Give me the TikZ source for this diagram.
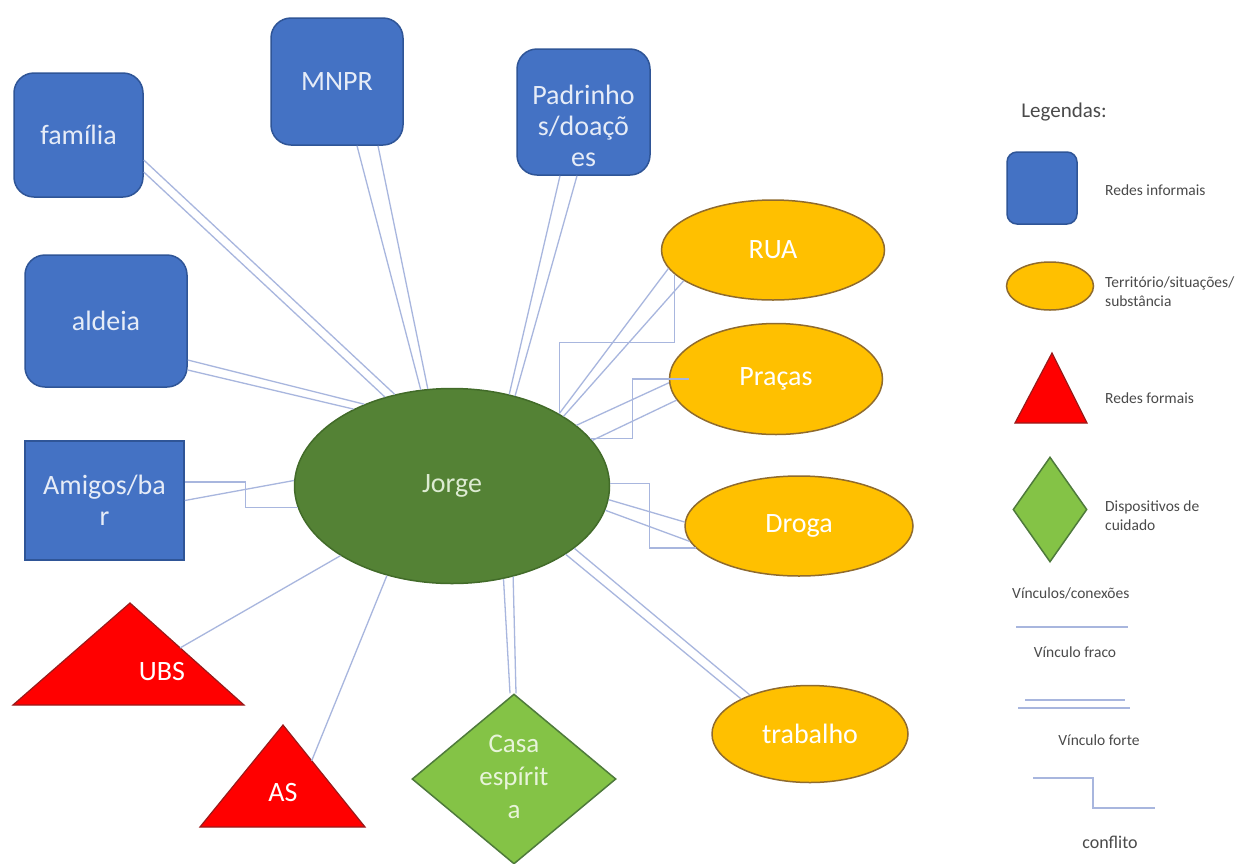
\documentclass[tikz,border=0pt]{standalone}
\usepackage{fontspec}
\setmainfont{Carlito}
\usetikzlibrary{shapes.geometric,calc}

\definecolor{infoBlue}{HTML}{4472C4}
\definecolor{infoBorder}{HTML}{2F5597}
\definecolor{infoText}{HTML}{E6ECF7}
\definecolor{jorgeGreen}{HTML}{548235}
\definecolor{jorgeBorder}{HTML}{426B29}
\definecolor{jorgeText}{HTML}{DDEBD2}
\definecolor{terrOrange}{HTML}{FFC000}
\definecolor{terrBorder}{HTML}{8F6B2E}
\definecolor{formRed}{HTML}{FF0000}
\definecolor{formBorder}{HTML}{9A1A1A}
\definecolor{careGreen}{HTML}{84C346}
\definecolor{careBorder}{HTML}{4E7A3B}
\definecolor{careText}{HTML}{E8F4DA}
\definecolor{linkBlue}{HTML}{A8B6DE}
\definecolor{legendText}{HTML}{4A4A4A}

\newcommand\lblfont{\fontsize{28}{31}\selectfont}
\newcommand\casafont{\fontsize{27}{33}\selectfont}
\newcommand\legfont{\fontsize{15.5}{19}\selectfont}
\newcommand\legtitlefont{\fontsize{21}{25}\selectfont}

\begin{document}
\begin{tikzpicture}[x=1pt,y=-1pt,
  informal/.style={draw=infoBorder, fill=infoBlue, line width=1.5pt,
    rounded corners=20pt, text=infoText, align=center, font=\lblfont, inner sep=0pt},
  territory/.style={ellipse, draw=terrBorder, fill=terrOrange, line width=1.5pt,
    text=white, font=\lblfont, inner sep=0pt},
  formal/.style={draw=formBorder, fill=formRed, line width=1.2pt, line join=miter},
  care/.style={diamond, draw=careBorder, fill=careGreen, line width=1.5pt, inner sep=0pt},
  lbl/.style={font=\lblfont, text=white, align=center, inner sep=0pt},
  legtxt/.style={font=\legfont, text=legendText, align=left, inner sep=0pt},
  link/.style={draw=linkBlue, line width=1.3pt}]

\useasboundingbox (0,0) rectangle (1245,863);
\fill[white] (0,0) rectangle (1245,863);

% ---------- informal networks ----------
\node[informal, minimum width=129pt, minimum height=124pt] (fam) at (78.5,135) {família};
\node[informal, minimum width=132pt, minimum height=127pt] (mnpr) at (337,81.5) {MNPR};
\node[informal, minimum width=133pt, minimum height=126pt] (padr) at (583.5,112) {};
\node[lbl, text=infoText] (padrTxt) at (583.5,126) {Padrinho\\s/doaçõ\\es};
\node[informal, minimum width=162pt, minimum height=132pt] (ald) at (106,321) {aldeia};
\node[informal, rounded corners=0pt, minimum width=159pt, minimum height=119pt] (amig) at (104.5,500.5) {Amigos/ba\\r};

% ---------- central person ----------
\node[ellipse, draw=jorgeBorder, fill=jorgeGreen, line width=1.5pt, inner sep=0pt,
  minimum width=315pt, minimum height=195pt, text=jorgeText, font=\lblfont] (jorge) at (452,486) {Jorge};

% ---------- territories ----------
\node[territory, minimum width=223pt, minimum height=100pt] (rua) at (773,250) {RUA};
\node[territory, minimum width=213pt, minimum height=111pt] (pracas) at (776,379) {Praças};
\node[territory, minimum width=228pt, minimum height=100pt] (droga) at (799,526) {Droga};
\node[territory, minimum width=196pt, minimum height=97pt] (trab) at (810,734) {trabalho};

% ---------- formal networks ----------
\coordinate (ubsL) at (13,705);
\coordinate (ubsR) at (244,705);
\coordinate (ubsT) at (130,603);
\filldraw[formal] (ubsL) -- (ubsR) -- (ubsT) -- cycle;
\node[lbl] (ubs) at (162,672) {UBS};

\coordinate (asL) at (200,827);
\coordinate (asR) at (365,827);
\coordinate (asT) at (283,725);
\filldraw[formal] (asL) -- (asR) -- (asT) -- cycle;
\node[lbl] (as) at (283,792) {AS};

% ---------- care device ----------
\node[care, minimum width=204pt, minimum height=170pt] (casa) at (514,779) {};
\node[lbl, text=careText, font=\casafont] (casaTxt) at (514,777) {Casa\\espírit\\a};

% ---------- links ----------
% família (strong)
\draw[link] ([yshift=-25pt]fam.east) -- (jorge.122);
\draw[link] ([yshift=-37pt]fam.east) -- (jorge.127);
% MNPR (strong)
\draw[link] ([xshift=20pt]mnpr.south) -- (jorge.108);
\draw[link] ([xshift=41pt]mnpr.south) -- (jorge.104);
% Padrinhos/doações (strong)
\draw[link] ([xshift=-23.5pt]padr.south) -- (jorge.58);
\draw[link] ([xshift=-6.5pt]padr.south) -- (jorge.55);
% aldeia (strong)
\draw[link] ([yshift=-39pt]ald.east) -- (jorge.137);
\draw[link] ([yshift=-49pt]ald.east) -- (jorge.142);
% Amigos/bar (weak + conflict)
\draw[link] (amig.east) -- (jorge.178.5);
\draw[link] ([yshift=18.5pt]amig.east) -- ++(61,0) |- (jorge.188);
% UBS, AS (weak)
\draw[link] ($(ubsT)!0.44!(ubsR)$) -- (jorge.212);
\draw[link] ($(asT)!0.35!(asR)$) -- (jorge.234);
% Casa espírita (strong)
\draw[link] (jorge.-61) -- ([xshift=-4pt]casa.north);
\draw[link] (jorge.-56) -- ([xshift=2pt]casa.north);
% trabalho (strong)
\draw[link] (jorge.-31) -- (trab.153);
\draw[link] (jorge.-27) -- (trab.147);
% Droga (strong + conflict)
\draw[link] (jorge.-5) -- (droga.178);
\draw[link] (jorge.-9) -- (droga.188);
\draw[link] (jorge.1.5) -- ++(39,0) |- (droga.192);
% Praças (strong + conflict)
\draw[link] (jorge.26) -- (pracas.182);
\draw[link] (jorge.18) -- (pracas.192);
\draw[link] ([xshift=20pt]pracas.west) -- ++(-56,0) |- (jorge.19);
% RUA (strong + conflict)
\draw[link] (jorge.34) -- (rua.190);
\draw[link] (jorge.32) -- (rua.199);
\draw[link] (jorge.34) -- ++(0,-71) -| (rua.194);

% ---------- legend ----------
\node[font=\legtitlefont, text=legendText, inner sep=0pt] (legTitle) at (1064,112) {Legendas:};

\node[informal, rounded corners=10pt, minimum width=70pt, minimum height=72pt] (legInf) at (1042,188) {};
\node[legtxt, anchor=west] (legInfTxt) at (1105,190) {Redes informais};

\node[territory, minimum width=87pt, minimum height=48pt] (legTerr) at (1050,286) {};
\node[legtxt, anchor=west] (legTerrTxt) at (1105,292) {Território/situações/\\substância};

\coordinate (legFL) at (1015,423);
\coordinate (legFR) at (1087,423);
\coordinate (legFT) at (1052,353);
\filldraw[formal] (legFL) -- (legFR) -- (legFT) -- cycle;
\node[legtxt, anchor=west] (legFormTxt) at (1105,398) {Redes formais};

\node[care, minimum width=74pt, minimum height=105pt] (legCare) at (1050,509.5) {};
\node[legtxt, anchor=west] (legCareTxt) at (1105,516) {Dispositivos de\\cuidado};

\node[legtxt, anchor=west] (legLinks) at (1012,593) {Vínculos/conexões};

\coordinate (weakA) at (1016,627);
\coordinate (weakB) at (1128,627);
\draw[link] (weakA) -- (weakB);
\node[legtxt] (legWeak) at (1075,652) {Vínculo fraco};

\coordinate (strongA) at (1025,700);
\coordinate (strongB) at (1125,700);
\coordinate (strongC) at (1018,708);
\coordinate (strongD) at (1130,708);
\draw[link] (strongA) -- (strongB);
\draw[link] (strongC) -- (strongD);
\node[legtxt] (legStrong) at (1099,740) {Vínculo forte};

\coordinate (confA) at (1033,778);
\coordinate (confB) at (1155,808);
\draw[link] (confA) -- ++(60,0) |- (confB);
\node[legtxt, font=\fontsize{18}{22}\selectfont] (legConf) at (1110,842) {conflito};

\end{tikzpicture}
\end{document}
